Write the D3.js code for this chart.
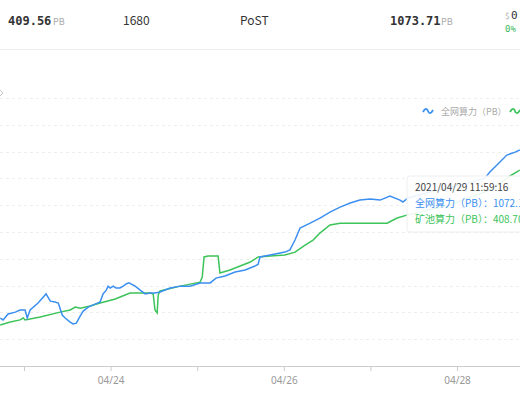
<!DOCTYPE html>
<html><head><meta charset="utf-8">
<script src="https://cdn.jsdelivr.net/npm/d3@7"></script>
<style>body{margin:0;background:#fff;overflow:hidden}text{font-family:"Noto Sans CJK SC","Noto Sans",sans-serif}</style>
</head><body><div id="chart"></div>
<script>
// hours since 2021-04-22 00:00, value (PB)
var netHours = [17.4,18.2,19.6,21.6,22.9,24.3,24.9,25.7,27.9,29.6,30.1,31.3,32.6,33.5,34.6,35.4,36.8,37.6,38.5,39.6,40.4,41.8,43.7,45.1,45.9,46.8,47.3,47.9,48.7,49.5,50.6,51.5,52.3,53.1,54.8,56.2,57.6,58.9,60.3,61.7,64.5,67.3,70.0,72.8,75.6,77.2,79.7,82.5,85.3,88.0,88.9,89.4,92.2,96.3,97.7,99.1,100.5,103.3,106.0,108.8,111.6,114.4,117.1,119.9,122.7,125.4,128.2,129.0,130.4,136.5,144.8,151.7,153.1,155.9,157.8,160.1,161.4];
var netPower = [179,172,194,201,209,209,179,209,235,261,269,242,239,235,190,179,164,157,160,187,205,220,231,239,269,283,298,291,298,291,291,298,306,310,298,283,269,272,272,276,291,298,298,310,310,328,336,351,358,373,380,407,414,425,433,470,515,533,552,574,593,608,619,623,619,634,619,612,627,649,675,701,724,761,787,798,806];
var poolHours = [17.4,20.2,22.9,23.8,24.3,28.5,34.0,36.8,38.2,39.6,42.3,45.1,49.3,52.0,53.4,58.9,59.8,60.3,60.9,61.2,61.7,67.3,72.8,73.4,73.9,75.0,77.8,78.3,81.1,83.9,86.7,88.9,92.2,96.3,99.1,101.9,104.1,106.0,108.8,111.6,124.6,127.4,130.1,142.0,153.1,158.7,161.4];
var poolPower = [153,164,172,179,172,183,201,209,220,216,224,235,250,265,272,272,269,209,198,265,280,298,313,332,407,410,410,347,358,373,388,407,410,414,425,451,470,496,526,533,533,552,563,601,656,709,731];
var dayTicks = ["2021-04-23","2021-04-24","2021-04-25","2021-04-26","2021-04-27","2021-04-28"];
var yTicks = [100,200,300,400,500,600,700,800,900,1000];

var W = 520, H = 400, blue = "#3b8ff0", green = "#3cc35a";
var svg = d3.select("#chart").append("svg").attr("width", W).attr("height", H);
var t0 = new Date(2021,3,22);
var toDate = function(h){ return new Date(t0.getTime() + h*3600000); };
var x = d3.scaleTime().domain([toDate(17.35), toDate(161.45)]).range([0, W]);
var y = d3.scaleLinear().domain([0, 1000]).range([366, 98]);

// HEADER
var hdr = svg.append("g");
hdr.append("text").attr("x", 8).attr("y", 25).style("font-family","DejaVu Sans Mono").style("font-size","12px").style("font-weight","bold").style("fill","#333").text("409.56");
hdr.append("text").attr("x", 53).attr("y", 25).style("font-size","9px").style("fill","#aaa").text("PB");
hdr.append("text").attr("x", 123).attr("y", 25).style("font-size","12px").style("fill","#333").text("1680");
hdr.append("text").attr("x", 240).attr("y", 25).style("font-size","12px").style("fill","#333").text("PoST");
hdr.append("text").attr("x", 390).attr("y", 25).style("font-family","DejaVu Sans Mono").style("font-size","12px").style("font-weight","bold").style("fill","#333").text("1073.71");
hdr.append("text").attr("x", 441).attr("y", 25).style("font-size","9px").style("fill","#aaa").text("PB");
hdr.append("text").attr("x", 505).attr("y", 19).style("font-size","8px").style("fill","#aaa").text("$");
hdr.append("text").attr("x", 511).attr("y", 19).style("font-family","DejaVu Sans Mono").style("font-size","11px").style("fill","#333").text("0");
hdr.append("text").attr("x", 505).attr("y", 32).style("font-family","DejaVu Sans Mono").style("font-size","9px").style("fill","#3cb95a").text("0%");
hdr.append("line").attr("x1",0).attr("x2",W).attr("y1",49.5).attr("y2",49.5).style("stroke","#eee");
hdr.append("path").attr("d","M-1,89 L3,93 L-1,97").style("fill","none").style("stroke","#ccc");

// GRID
svg.append("g").selectAll("line").data(yTicks).enter().append("line")
  .attr("x1",0).attr("x2",W).attr("y1",function(d){return Math.round(y(d))+0.5;}).attr("y2",function(d){return Math.round(y(d))+0.5;})
  .style("stroke","#eee").style("stroke-dasharray","3,3");

// X AXIS
var xAxis = d3.axisBottom(x).tickValues(dayTicks.map(function(d){return new Date(d+"T00:00:00");}))
  .tickSize(5).tickFormat(function(d,i){ return i%2==1 ? d3.timeFormat("%m/%d")(d) : ""; });
var ax = svg.append("g").attr("transform","translate(0,366)").call(xAxis);
ax.select(".domain").style("stroke","#ccc").attr("d","M0,0.5H"+W);
ax.selectAll(".tick line").style("stroke","#ccc");
ax.selectAll("text").style("fill","#999").style("font-size","10px").style("font-family","Noto Sans").attr("dy","1em");

// LINES
var line = d3.line().x(function(d){return x(toDate(d[0]));}).y(function(d){return y(d[1]);});
svg.append("path").datum(d3.zip(poolHours, poolPower)).attr("d", line).style("fill","none").style("stroke",green).style("stroke-width",1.5);
svg.append("path").datum(d3.zip(netHours, netPower)).attr("d", line).style("fill","none").style("stroke",blue).style("stroke-width",1.5);

// LEGEND
var wave = "M0,2 C2,-2 4,-2 5,1 C6,4 8,4 10,0";
svg.append("path").attr("d",wave).attr("transform","translate(423,110)").style("fill","none").style("stroke",blue).style("stroke-width",1.8);
svg.append("text").attr("x",441).attr("y",115).style("font-size","9px").style("fill","#aaa").text("全网算力（PB）");
svg.append("path").attr("d",wave).attr("transform","translate(510,110)").style("fill","none").style("stroke",green).style("stroke-width",1.8);

// TOOLTIP
var tip = svg.append("g").attr("transform","translate(407,176)");
tip.append("rect").attr("width",140).attr("height",56).attr("rx",3).style("fill","rgba(255,255,255,0.9)").style("stroke","#eee");
tip.append("text").attr("x",8).attr("y",15).style("font-size","10px").style("fill","#444").text("2021/04/29 11:59:16");
tip.append("text").attr("x",8).attr("y",31).style("font-size","10px").style("fill",blue).text("全网算力（PB）：1072.19");
tip.append("text").attr("x",8).attr("y",47).style("font-size","10px").style("fill",green).text("矿池算力（PB）：408.70");
</script></body></html>
